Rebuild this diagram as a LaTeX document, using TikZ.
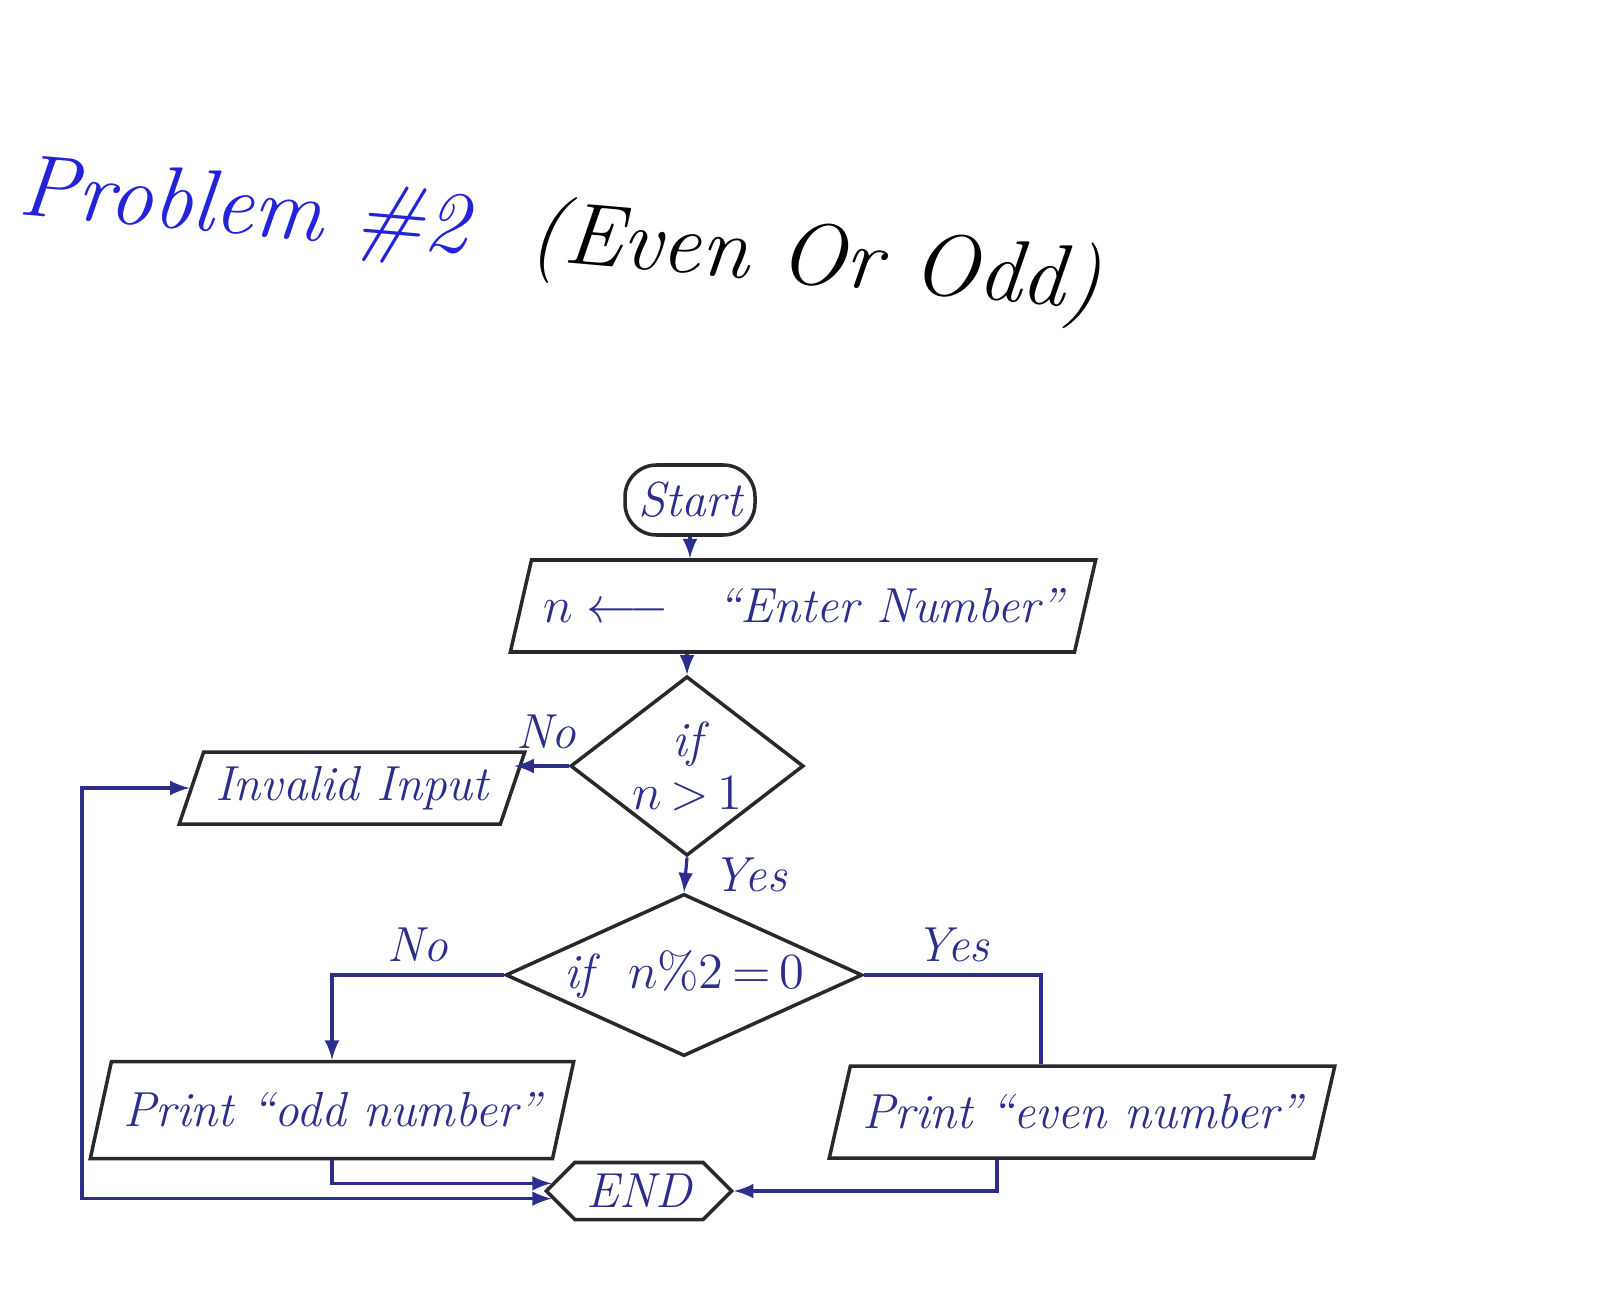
\documentclass[tikz,border=0pt]{standalone}
\usepackage{xcolor}
\usepackage{amsmath}
\usepackage{tikz}
\usetikzlibrary{shapes.geometric,shapes.symbols}
\definecolor{inkblue}{RGB}{45,45,140}
\definecolor{titleblue}{RGB}{35,35,215}
\definecolor{pencil}{RGB}{40,40,45}

\begin{document}
\begin{tikzpicture}[
  font=\fontsize{14}{17}\selectfont\itshape,
  term/.style={draw=pencil, line width=1pt, rounded corners=9pt, minimum width=1.3cm,
               minimum height=0.7cm, text=inkblue},
  io/.style={trapezium, trapezium left angle=70, trapezium right angle=110,
             trapezium stretches=true, draw=pencil, line width=1pt, text=inkblue},
  cond/.style={diamond, draw=pencil, line width=1pt, inner sep=0.5pt, text=inkblue, align=center},
  stopbox/.style={signal, signal to=west and east, draw=pencil, line width=1pt,
                  minimum width=1.6cm, minimum height=0.56cm, text=inkblue},
  arr/.style={-latex, line width=0.9pt, color=inkblue},
  wire/.style={line width=0.9pt, color=inkblue},
  lbl/.style={text=inkblue}
]
\useasboundingbox (0,0) rectangle (16,-13.08);

\node[rotate=-5, font=\fontsize{25}{30}\selectfont\itshape] (title) at (5.6,-2.4)
  {\textcolor{titleblue}{Problem \#2}\ \ (Even Or Odd)};

\node[term]                                         (start)   at (6.9,-5.0)    {Start};
\node[io, minimum width=5.1cm, minimum height=0.92cm] (input)   at (8.03,-6.06)  {$n \longleftarrow$\quad ``Enter Number''};
\node[cond, aspect=1.3, minimum width=2.25cm, minimum height=1.75cm] (check) at (6.87,-7.66) {if\\[-2pt]$n\,{>}\,1$};
\node[io, minimum width=3.2cm, minimum height=0.72cm] (invalid) at (3.52,-7.88)  {Invalid Input};
\node[cond, aspect=2.2, minimum width=3.1cm, minimum height=1.5cm] (parity) at (6.84,-9.75) {if\ \ $n\%2\,{=}\,0$};
\node[io, minimum width=4.1cm, minimum height=0.97cm] (odd)     at (3.32,-11.10) {Print ``odd number''};
\node[io, minimum width=4.6cm, minimum height=0.92cm] (even)    at (10.82,-11.12) {Print ``even number''};
\node[stopbox]                                      (stop)    at (6.39,-11.91) {END};
\coordinate (loop) at (0.82,-8.0);

\draw[arr] (start.south) -- (start.south |- input.north);
\draw[arr] (input.south -| check.north) -- (check.north);
\draw[arr] (check.west) -- (invalid.east |- check.west) node[pos=0, anchor=south east, xshift=6pt, yshift=1pt, lbl] {No};
\draw[arr] (check.south) -- (parity.north) node[midway, right, xshift=4pt, lbl] {Yes};
\draw[arr] (parity.west) -| (odd.north) node[pos=0.25, above, lbl] {No};
\draw[wire] (parity.east) -| ([xshift=-4.1mm]even.north) node[pos=0.25, above, lbl] {Yes};
\draw[arr, latex-latex] (invalid.west) -- (invalid.west -| loop) |- (stop.185);
\draw[arr] (odd.south) |- (stop.175);
\draw[arr] ([xshift=-8.5mm]even.south) |- (stop.east);

\end{tikzpicture}
\end{document}
